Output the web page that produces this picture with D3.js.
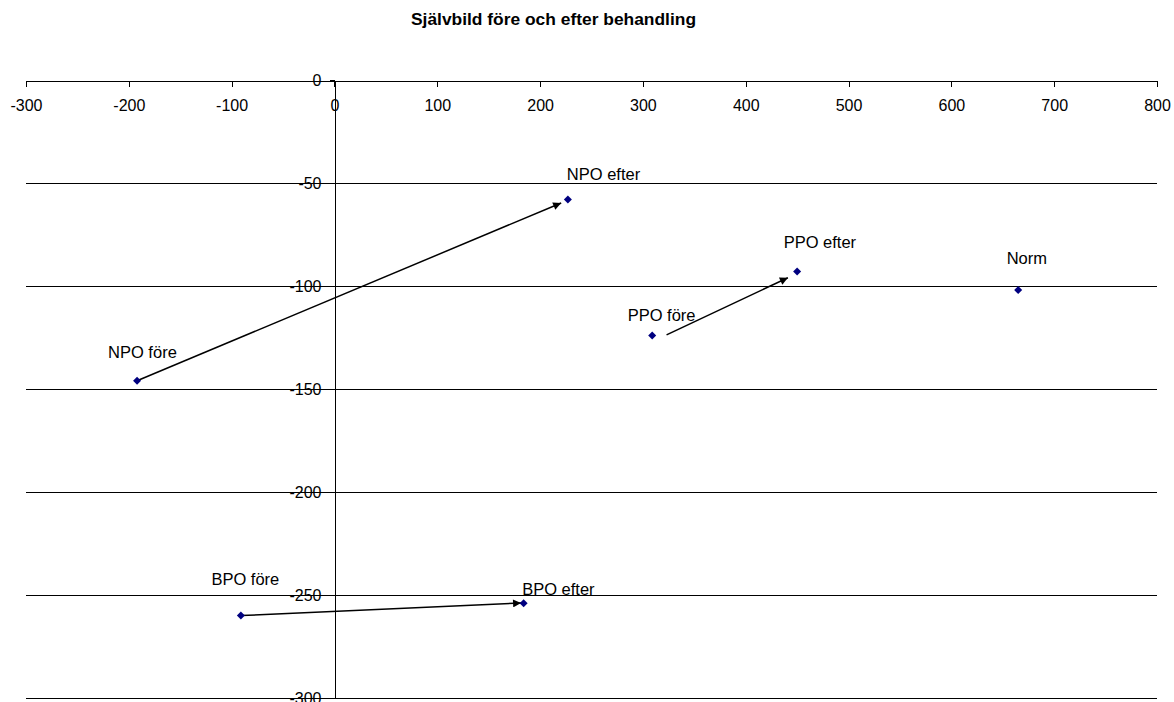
<!DOCTYPE html>
<html>
<head>
<meta charset="utf-8">
<script src="https://cdn.jsdelivr.net/npm/d3@7"></script>
<style>
  html, body { margin: 0; padding: 0; background: #fff; }
  svg { display: block; font-family: "Liberation Sans", Arial, sans-serif; }
</style>
</head>
<body>
<svg id="chart" width="1174" height="702"></svg>
<script>
// Self-image scores before and after treatment
const title = "Självbild före och efter behandling";
const pointNames = ["NPO före", "NPO efter", "PPO före", "PPO efter", "Norm", "BPO före", "BPO efter"];
const pointX = [-192, 227, 309, 450, 665, -91, 184];
const pointY = [-146, -58, -124, -93, -102, -260, -254];

// Change arrows (data coordinates: from -> to)
const arrowFromX = [-192, 323, -91];
const arrowFromY = [-146, -123.7, -260];
const arrowToX = [220.5, 441, 181.5];
const arrowToY = [-59.7, -96, -253.9];

const xTicks = [-300, -200, -100, 0, 100, 200, 300, 400, 500, 600, 700, 800];
const yTicks = [0, -50, -100, -150, -200, -250, -300];

const svg = d3.select("#chart");

const x = d3.scaleLinear().domain([-300, 800]).range([26, 1157]);
const y = d3.scaleLinear().domain([-300, 0]).range([698, 80]);

// Plain hyphen-minus for negative tick labels
const fmt = d => String(d);

// Title
svg.append("text")
  .attr("x", 553.5).attr("y", 25)
  .attr("text-anchor", "middle")
  .style("font-size", "17.4px").style("font-weight", "bold")
  .text(title);

// Horizontal gridlines
svg.append("g")
  .selectAll("line")
  .data(yTicks.filter(d => d !== 0))
  .join("line")
  .attr("x1", x(-300)).attr("x2", x(800))
  .attr("y1", d => Math.round(y(d)) + 0.5)
  .attr("y2", d => Math.round(y(d)) + 0.5)
  .attr("stroke", "#000").attr("stroke-width", 1)
  .attr("shape-rendering", "crispEdges");

// X axis along y = 0
const xAxis = svg.append("g")
  .attr("transform", `translate(0,${Math.round(y(0)) + 0.5})`)
  .call(d3.axisBottom(x).tickValues(xTicks).tickFormat(fmt)
    .tickSize(6).tickSizeOuter(0).tickPadding(13));

// Y axis along x = 0
const yAxis = svg.append("g")
  .attr("transform", `translate(${Math.round(x(0)) + 0.5},0)`)
  .call(d3.axisLeft(y).tickValues(yTicks).tickFormat(fmt)
    .tickSize(5).tickSizeOuter(0).tickPadding(8));

[xAxis, yAxis].forEach(g => {
  g.selectAll("path.domain").attr("stroke", "#000").attr("shape-rendering", "crispEdges");
  g.selectAll(".tick line").attr("stroke", "#000").attr("shape-rendering", "crispEdges");
  g.selectAll(".tick text")
    .attr("fill", "#000")
    .style("font-family", "'Liberation Sans', Arial, sans-serif")
    .style("font-size", "16px");
});
yAxis.selectAll(".tick text").attr("dy", "0.36em");

// Arrowhead
svg.append("defs").append("marker")
  .attr("id", "arrowhead")
  .attr("viewBox", "0 0 10 10")
  .attr("refX", 10).attr("refY", 5)
  .attr("markerWidth", 10).attr("markerHeight", 8)
  .attr("markerUnits", "userSpaceOnUse")
  .attr("orient", "auto")
  .append("path")
  .attr("d", "M0,0 L10,5 L0,10 Z")
  .attr("fill", "#000");

svg.append("g")
  .selectAll("line")
  .data(d3.range(arrowFromX.length))
  .join("line")
  .attr("x1", i => x(arrowFromX[i])).attr("y1", i => y(arrowFromY[i]))
  .attr("x2", i => x(arrowToX[i])).attr("y2", i => y(arrowToY[i]))
  .attr("stroke", "#000").attr("stroke-width", 1.5)
  .attr("marker-end", "url(#arrowhead)");

// Data points (navy diamonds)
const diamond = d3.symbol(d3.symbolSquare, 32);
svg.append("g")
  .selectAll("path")
  .data(d3.range(pointNames.length))
  .join("path")
  .attr("d", diamond)
  .attr("transform", i => `translate(${x(pointX[i])},${y(pointY[i])}) rotate(45)`)
  .attr("fill", "#000080");

// Point labels, placed relative to each marker
const labelOffset = {
  "NPO före":  [-29, -23],
  "NPO efter": [-1, -19.5],
  "PPO före":  [-24.5, -14],
  "PPO efter": [-13.5, -23.5],
  "Norm":      [-11.5, -26],
  "BPO före":  [-29.5, -30.5],
  "BPO efter": [-1.5, -8.5]
};
svg.append("g")
  .selectAll("text")
  .data(d3.range(pointNames.length))
  .join("text")
  .attr("x", i => x(pointX[i]) + labelOffset[pointNames[i]][0])
  .attr("y", i => y(pointY[i]) + labelOffset[pointNames[i]][1])
  .style("font-size", "16.5px")
  .attr("fill", "#000")
  .text(i => pointNames[i]);
</script>
</body>
</html>
